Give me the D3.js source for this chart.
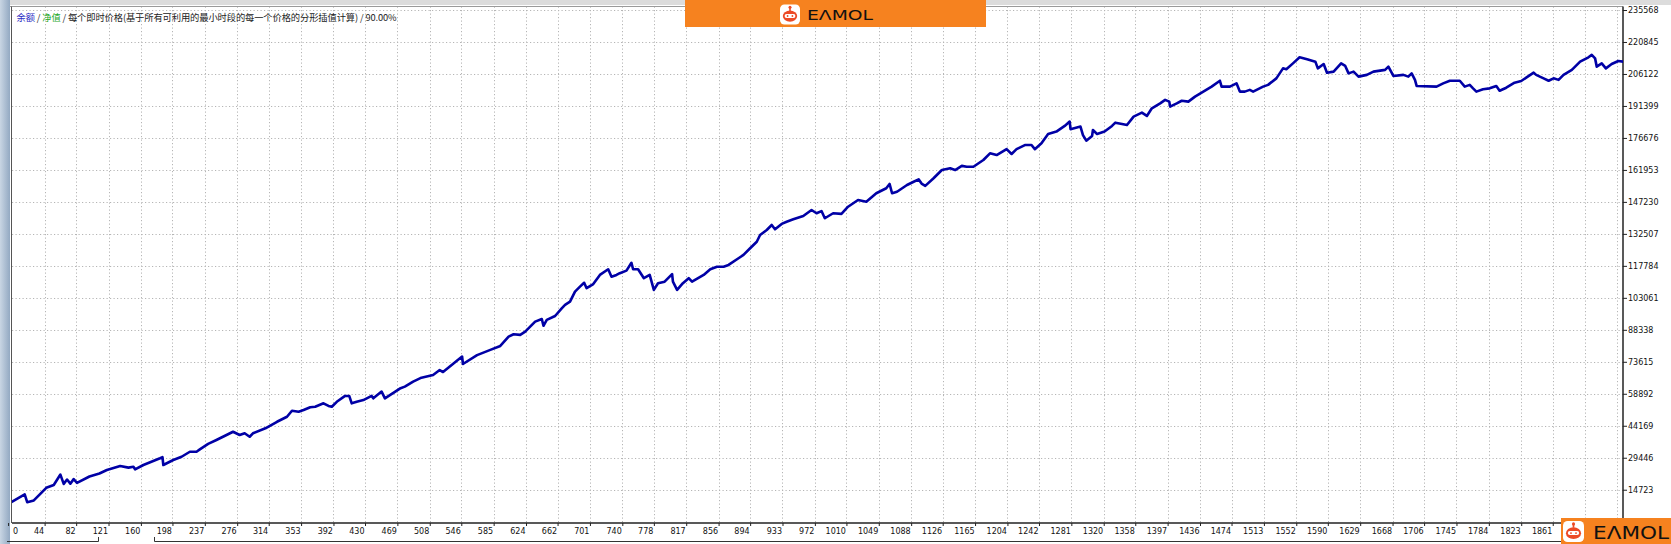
<!DOCTYPE html>
<html><head><meta charset="utf-8">
<script src="https://cdn.jsdelivr.net/npm/d3@7"></script>
<style>html,body{margin:0;padding:0;background:#fff;overflow:hidden}</style>
</head><body>
<svg id="c" width="1671" height="544"></svg>
<script>
// ---------- data ----------
const trades = [
0,20,23,31,46,55,63,67,71,75,
79,83,98,110,119,135,145,151,153,163,
183,186,187,199,209,219,227,231,241,251,
271,279,285,291,295,310,324,336,342,350,
356,364,370,380,386,390,396,406,411,414,
420,428,438,440,450,454,472,478,488,498,
512,520,524,547,548,565,581,593,603,609,
617,623,635,643,645,649,659,667,671,677,
683,689,694,697,705,713,723,727,733,737,
745,751,753,759,766,773,778,783,791,800,
801,806,813,820,824,838,846,854,862,868,
880,886,894,902,906,914,920,924,932,938,
946,958,968,974,980,984,994,1004,1012,1024,
1034,1046,1058,1062,1065,1071,1083,1091,1097,1101,
1105,1115,1125,1135,1141,1149,1155,1163,1175,1183,
1191,1203,1209,1215,1225,1233,1237,1245,1253,1263,
1273,1279,1280,1292,1295,1299,1306,1307,1312,1321,
1330,1334,1342,1348,1356,1366,1372,1378,1388,1394,
1399,1400,1408,1414,1422,1430,1440,1450,1460,1462,
1472,1480,1484,1490,1496,1500,1512,1518,1528,1536,
1540,1548,1556,1565,1575,1578,1585,1589,1597,1606,
1611,1615,1621,1627,1637,1645,1659,1663,1669,1681,
1687,1691,1695,1697,1721,1729,1737,1749,1755,1761,
1765,1769,1777,1785,1793,1797,1805,1815,1823,1838,
1841,1850,1856,1862,1868,1874,1884,1894,1904,1908,
1912,1914,1920,1925,1932,1940,1946];
const balance = [
8200,12600,9000,9800,15600,16900,21700,17400,19400,17500,
19600,17900,20800,22200,23800,25600,24900,25300,24100,26100,
29200,29700,26100,28400,29900,32200,32200,33300,35800,37600,
41400,39900,40700,39100,40700,43000,46000,48300,51100,50600,
51400,52700,52900,54500,53300,52900,55200,57900,57900,54500,
55200,56000,57900,56800,59900,56800,61300,62200,64500,66300,
67500,69800,68900,76000,72600,76700,79100,80900,85200,86300,
86000,87500,92100,93300,90200,92900,94700,98200,99800,101300,
105900,108200,110000,107500,109400,113600,116200,112800,113600,114400,
115600,119200,116200,116200,112100,113600,106700,109800,110500,114000,
110500,106700,109800,112100,110500,113600,116200,117400,117400,118200,
121300,122800,125900,128900,132000,134300,136600,134600,137100,138100,
139200,140700,143500,142000,143000,139700,142000,141700,145000,148100,
147300,151200,153500,155500,151200,151900,155000,156500,157600,155500,
154600,158100,161900,162700,161900,163800,163400,163400,166500,169600,
168800,171500,169300,171500,173400,173400,171500,174200,178500,179600,
182200,184200,180700,181900,178000,175400,177600,180300,178500,179600,
182200,183700,183100,182600,186500,188300,186800,190300,192600,194200,
193400,191100,192600,193800,193400,195700,198000,200300,203000,200300,
200300,201800,198000,198000,198800,198000,200300,201100,204100,208700,
208300,211000,213800,212900,211800,208700,210700,206700,207200,211000,
209800,206400,207200,204900,205700,207200,208000,209500,205200,205700,
204900,206400,203400,200600,200300,201800,203000,203000,200300,201100,
199500,198000,199100,199500,200600,198400,199800,202100,202900,206700,
205700,204100,203000,204100,203400,205700,208000,211800,213800,214900,
213300,209500,211000,208700,210700,212100,211800];
const yTickValues = [14723,29446,44169,58892,73615,88338,103061,117784,132507,147230,161953,176676,191399,206122,220845,235568];
const xTickValues = [0,44,82,121,160,198,237,276,314,353,392,430,469,508,546,585,624,662,701,740,778,817,856,894,933,972,1010,1049,1088,1126,1165,1204,1242,1281,1320,1358,1397,1436,1474,1513,1552,1590,1629,1668,1706,1745,1784,1823,1861,1900,1939];
const legendTexts = ["余额", " / ", "净值", " / ", "每个即时价格(基于所有可利用的最小时段的每一个价格的分形插值计算)", " / ", "90.00%"];
const brandName = "EΛMOL";

// ---------- layout ----------
const W = 1671, H = 544;
const L = 12, R = 1623, T = 6.5, B = 523;
const LOGO_X = 1561;
const svg = d3.select("#c");

const x = d3.scaleLinear().domain([0, 1946]).range([8.1, 1623.3]);
const y = d3.scaleLinear().domain([0, 235568]).range([521.7, 10]);

// window chrome
const defs = svg.append("defs");
const lg = defs.append("linearGradient").attr("id","side").attr("x1",0).attr("x2",1).attr("y1",0).attr("y2",0);
lg.append("stop").attr("offset","0%").attr("stop-color","#c9d6e4");
lg.append("stop").attr("offset","100%").attr("stop-color","#93a9c2");
defs.append("clipPath").attr("id","plot").append("rect").attr("x",L).attr("y",T).attr("width",R-L).attr("height",B-T);

svg.append("rect").attr("x",0).attr("y",0).attr("width",W).attr("height",H).attr("fill","#fff");
svg.append("rect").attr("x",0).attr("y",0).attr("width",W).attr("height",5).attr("fill","#dcdcdc");
svg.append("rect").attr("x",0).attr("y",0).attr("width",10).attr("height",H).attr("fill","url(#side)");

// grid
const grid = svg.append("g").attr("stroke","#b5b5b5").attr("stroke-width",1).attr("stroke-dasharray","1.2,2.3");
grid.selectAll("line.h").data(yTickValues).join("line").attr("class","h")
  .attr("x1",L).attr("x2",R).attr("y1",d=>Math.round(y(d))+0.5).attr("y2",d=>Math.round(y(d))+0.5);
grid.selectAll("line.v").data(xTickValues.filter(d=>d>0)).join("line").attr("class","v")
  .attr("y1",T).attr("y2",B).attr("x1",d=>Math.round(x(d))+0.5).attr("x2",d=>Math.round(x(d))+0.5);

// borders
svg.append("line").attr("x1",10).attr("x2",R).attr("y1",T).attr("y2",T).attr("stroke","#9a9a9a");
svg.append("line").attr("x1",11.5).attr("x2",11.5).attr("y1",T).attr("y2",B).attr("stroke","#555");
svg.append("line").attr("x1",R).attr("x2",R).attr("y1",T).attr("y2",B+1).attr("stroke","#222").attr("stroke-width",1.5);
svg.append("line").attr("x1",L).attr("x2",R).attr("y1",B).attr("y2",B).attr("stroke","#222").attr("stroke-width",1.5);

// y axis
const yAxis = svg.append("g").attr("transform",`translate(${R},0)`)
  .call(d3.axisRight(y).tickValues(yTickValues).tickSize(4).tickPadding(1).tickFormat(d3.format("d")));
yAxis.select(".domain").remove();
yAxis.selectAll("line").attr("stroke","#222");
yAxis.selectAll("text").attr("font-family","DejaVu Sans, sans-serif").attr("font-size",8).attr("fill","#111");

// x axis
const xAxis = svg.append("g").attr("transform",`translate(0,${B})`)
  .call(d3.axisBottom(x).tickValues(xTickValues).tickSize(3).tickPadding(2).tickFormat(d3.format("d")));
xAxis.select(".domain").remove();
xAxis.selectAll("line").attr("stroke","#222");
xAxis.selectAll("text").attr("font-family","DejaVu Sans, sans-serif").attr("font-size",8).attr("fill","#111")
  .attr("text-anchor",d=>d===0?"start":"end").attr("x",d=>d===0?(12.5-x(0)):-1);
// labels that sit under the corner logo are hidden in the original
xAxis.selectAll(".tick").filter(d=>x(d)-24 > LOGO_X).select("text").remove();

// tab outlines at the bottom
svg.append("path").attr("d","M7,541.5H98.5V537").attr("fill","none").attr("stroke","#333");
svg.append("path").attr("d","M154.5,537V541.5H1561").attr("fill","none").attr("stroke","#333");

// balance line
const pts = trades.map((t,i)=>[t,balance[i]]);
svg.append("path").datum(pts).attr("clip-path","url(#plot)")
  .attr("fill","none").attr("stroke","#0000a6").attr("stroke-width",2.6)
  .attr("stroke-linejoin","round").attr("stroke-linecap","round")
  .attr("d", d3.line().x(d=>x(d[0])).y(d=>y(d[1])));

// legend text
const colors = ["#2b2bc4","#333","#1fa81f","#333","#222","#333","#222"];
const lt = svg.append("text").attr("x",16.5).attr("y",20.5)
  .attr("font-family","Noto Sans CJK SC, sans-serif").attr("font-size",9.3);
lt.selectAll("tspan").data(legendTexts).join("tspan").text(d=>d).attr("fill",(d,i)=>colors[i]).attr("xml:space","preserve");
lt.attr("textLength",380).attr("lengthAdjust","spacing");

// brand logos
function logo(bx, by, bw, bh, icx, icy, s, tx, tBase, fs, tLen){
  const g = svg.append("g");
  g.append("rect").attr("x",bx).attr("y",by).attr("width",bw).attr("height",bh).attr("fill","#f6821f");
  const ic = g.append("g").attr("transform",`translate(${icx},${icy})`);
  ic.append("rect").attr("x",-s/2).attr("y",-s/2).attr("width",s).attr("height",s).attr("rx",s*0.22).attr("fill","#fff");
  const red = "#ec4a26";
  ic.append("line").attr("x1",0).attr("x2",0).attr("y1",-s*0.36).attr("y2",-s*0.18).attr("stroke",red).attr("stroke-width",s*0.08);
  ic.append("circle").attr("cx",0).attr("cy",-s*0.36).attr("r",s*0.075).attr("fill",red);
  ic.append("ellipse").attr("cx",0).attr("cy",s*0.08).attr("rx",s*0.36).attr("ry",s*0.28).attr("fill",red);
  ic.append("rect").attr("x",-s*0.27).attr("y",-s*0.02).attr("width",s*0.54).attr("height",s*0.19).attr("rx",s*0.095).attr("fill","#fff");
  ic.append("circle").attr("cx",-s*0.12).attr("cy",s*0.075).attr("r",s*0.045).attr("fill",red);
  ic.append("circle").attr("cx",s*0.12).attr("cy",s*0.075).attr("r",s*0.045).attr("fill",red);
  g.append("text").attr("x",tx).attr("y",tBase).text(brandName)
    .attr("font-family","DejaVu Sans, sans-serif").attr("font-size",fs).attr("fill","#111")
    .attr("textLength",tLen).attr("lengthAdjust","spacingAndGlyphs");
}
logo(685, 0, 301, 27, 790, 14.5, 20, 807, 20, 14, 66);
logo(LOGO_X, 518, 110, 26, 1573.5, 531.5, 21, 1593, 538.5, 18, 76);
</script>
</body></html>
